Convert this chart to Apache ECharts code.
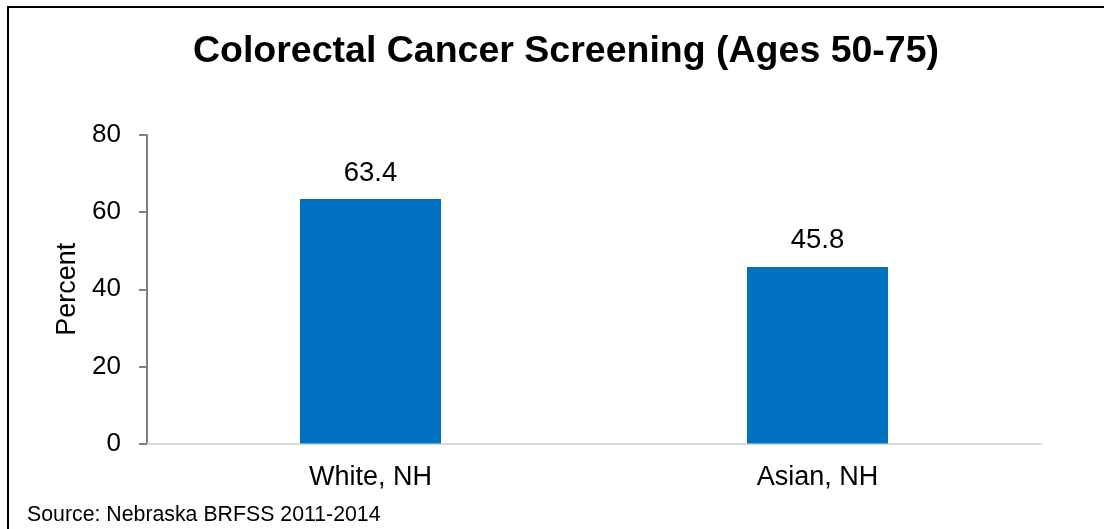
<!DOCTYPE html>
<html>
<head>
<meta charset="utf-8">
<script src="https://cdn.jsdelivr.net/npm/echarts@6/dist/echarts.min.js"></script>
<style>
    html, body { margin: 0; padding: 0; background: #fff; }
    #chart { width: 1104px; height: 529px; }
</style>
</head>
<body>
<div id="chart"></div>
<script>
// chart data
var categories = ['White, NH', 'Asian, NH'];
var percentValues = [63.4, 45.8];
var yTicks = [0, 20, 40, 60, 80];

var chart = echarts.init(document.getElementById('chart'), null, { renderer: 'canvas' });

var fontName = '"Liberation Sans", Arial, sans-serif';

var option = {
    backgroundColor: '#ffffff',
    animation: false,
    graphic: [
        {
            // outer frame, runs off the right and bottom edges like the source image
            type: 'rect',
            shape: { x: 8, y: 7, width: 1200, height: 600 },
            style: { fill: 'none', stroke: '#000000', lineWidth: 2 }
        },
        {
            type: 'text',
            left: 27,
            top: 505,
            style: {
                text: 'Source: Nebraska BRFSS 2011-2014',
                font: '21.3px ' + fontName,
                fill: '#000000'
            }
        }
    ],
    title: {
        text: 'Colorectal Cancer Screening (Ages 50-75)',
        left: 561,
        top: 28,
        textAlign: 'center',
        textStyle: {
            fontFamily: fontName,
            fontWeight: 'bold',
            fontSize: 37.5,
            color: '#000000'
        }
    },
    grid: {
        left: 147,
        right: 63,
        top: 135,
        bottom: 85.5,
        containLabel: false
    },
    xAxis: {
        type: 'category',
        data: categories,
        axisLine: { show: true, lineStyle: { color: '#d9d9d9', width: 2 } },
        axisTick: { show: false },
        axisLabel: {
            margin: 21,
            fontFamily: fontName,
            fontSize: 27,
            color: '#000000'
        }
    },
    yAxis: {
        type: 'value',
        min: yTicks[0],
        max: yTicks[yTicks.length - 1],
        interval: 20,
        name: 'Percent',
        nameLocation: 'middle',
        nameGap: 63,
        nameRotate: 90,
        nameTextStyle: {
            fontFamily: fontName,
            fontSize: 27,
            color: '#000000'
        },
        axisLine: { show: true, lineStyle: { color: '#808080', width: 2 } },
        axisTick: { show: true, length: 8, lineStyle: { color: '#808080', width: 2 } },
        splitLine: { show: false },
        axisLabel: {
            margin: 26,
            fontFamily: fontName,
            fontSize: 26,
            color: '#000000'
        }
    },
    series: [
        {
            type: 'bar',
            data: percentValues,
            barWidth: 141,
            itemStyle: { color: '#0070c0' },
            label: {
                show: true,
                position: 'top',
                distance: 12,
                fontFamily: fontName,
                fontSize: 27.5,
                color: '#000000',
                formatter: function (params) {
                    return params.value.toFixed(1);
                }
            }
        }
    ]
};

chart.setOption(option);
</script>
</body>
</html>
